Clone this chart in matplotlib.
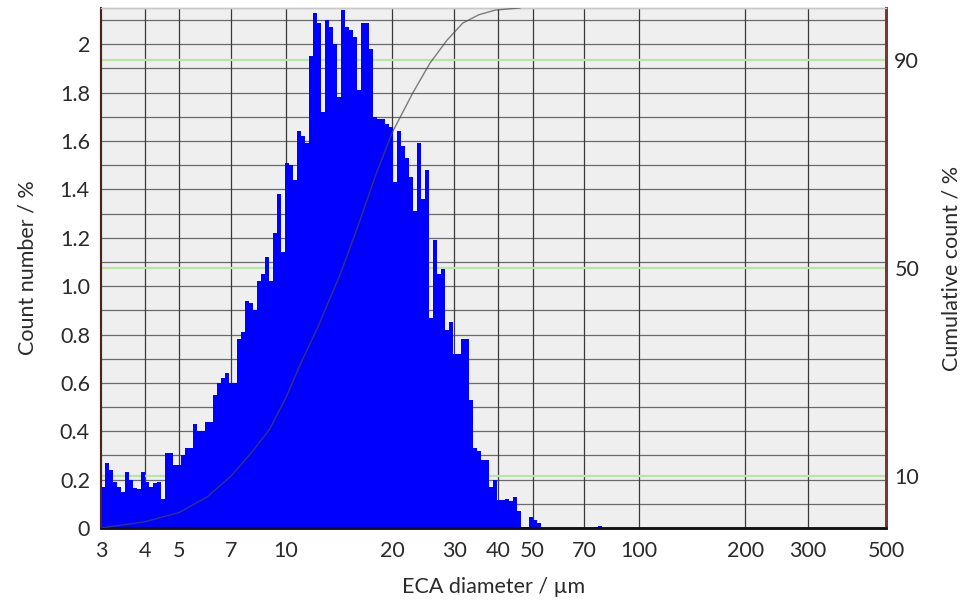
import numpy as np
import matplotlib
matplotlib.use("Agg")
import matplotlib.pyplot as plt
from matplotlib.transforms import blended_transform_factory

plt.rcParams['font.family'] = ['Lato', 'DejaVu Sans']

# count number per log-spaced size class (%)
counts = [0.17, 0.27, 0.24, 0.19, 0.17, 0.15, 0.23, 0.20, 0.165, 0.16,
          0.23, 0.19, 0.17, 0.185, 0.19, 0.12, 0.31, 0.31, 0.26, 0.26,
          0.30, 0.33, 0.33, 0.43, 0.40, 0.40, 0.44, 0.44, 0.55, 0.60,
          0.62, 0.64, 0.60, 0.60, 0.78, 0.81, 0.94, 0.93, 0.90, 1.02,
          1.05, 1.12, 1.02, 1.22, 1.38, 1.14, 1.51, 1.50, 1.44, 1.64,
          1.62, 1.59, 1.95, 2.13, 2.09, 1.72, 2.10, 2.07, 2.00, 1.78,
          2.14, 2.07, 2.06, 2.03, 1.81, 2.09, 2.09, 1.98, 1.70, 1.69,
          1.69, 1.67, 1.66, 1.43, 1.64, 1.58, 1.53, 1.45, 1.31, 1.59,
          1.36, 1.48, 0.87, 1.19, 1.05, 1.07, 0.82, 0.85, 0.72, 0.72,
          0.78, 0.78, 0.53, 0.33, 0.32, 0.28, 0.28, 0.17, 0.20, 0.115,
          0.115, 0.12, 0.11, 0.13, 0.07, 0.005, 0.005, 0.045, 0.035, 0.02,
          0, 0, 0, 0, 0, 0, 0, 0, 0, 0,
          0, 0, 0, 0.005, 0.01]
d_min = 3.0
d_max = 78.3

# cumulative count curve
cum_d = [3, 4, 5, 6, 7, 8, 9, 10, 11, 12.3, 14.3, 16, 18, 20, 22.9, 25.6,
         28.6, 31.7, 35.2, 39.2, 46]
cum_pct = [0, 1.2, 3, 6, 10, 14.5, 19, 25, 31.5, 38.5, 49, 58, 68, 76, 83.7,
           89.4, 93.8, 97.1, 98.7, 99.6, 100]

xticks = [3, 4, 5, 7, 10, 20, 30, 40, 50, 70, 100, 200, 300, 500]
yticks = [0, 0.2, 0.4, 0.6, 0.8, 1.0, 1.2, 1.4, 1.6, 1.8, 2.0]
ylabels = ['0', '0.2', '0.4', '0.6', '0.8', '1.0', '1.2', '1.4', '1.6', '1.8', '2']
green_pct = [10, 50, 90]

edges = np.geomspace(d_min, d_max, len(counts) + 1)
fs = 15.5

fig = plt.figure(figsize=(9.62, 6.10), dpi=100)
ax = fig.add_axes([0.105, 0.1344, 0.816, 0.8525])
ax.set_facecolor('#efefef')
ax.set_xscale('log')
ax.set_xlim(3, 500)
ax.set_ylim(0, 2.15)

ax2 = ax.twinx()
ax2.set_ylim(0, 100)

# grid
for yv in np.arange(0.1, 2.15, 0.1):
    ax.axhline(yv, color='#6a6a6a', lw=0.9, zorder=1)
for xv in xticks[1:-1]:
    ax.axvline(xv, color='#3a3a3a', lw=0.9, zorder=1)

# green 10/50/90 % lines (behind the bars)
tr = blended_transform_factory(ax.transAxes, ax2.transData)
for g in green_pct:
    ax.plot([0, 1], [g, g], color='#b8e6a8', lw=1.6, transform=tr, zorder=1.5)

ax.stairs(counts, edges, fill=True, color='#0000ff', zorder=2)

ax2.plot(cum_d, cum_pct, color='#4a4a4a', lw=1.0, alpha=0.7, zorder=3)

ax.set_xticks(xticks)
ax.set_xticklabels([str(t) for t in xticks])
ax.xaxis.set_minor_locator(matplotlib.ticker.NullLocator())
ax.set_yticks(yticks)
ax.set_yticklabels(ylabels)
ax.tick_params(axis='both', length=0, labelsize=fs, colors='#2a2a2a')
ax.tick_params(axis='x', pad=9)
ax.tick_params(axis='y', pad=8)

ax2.set_yticks(green_pct)
ax2.set_yticklabels([str(g) for g in green_pct])
ax2.tick_params(axis='y', length=0, labelsize=fs, colors='#2a2a2a', pad=6)

ax.set_xlabel('ECA diameter / µm', fontsize=fs, color='#2a2a2a', labelpad=12)
ax.set_ylabel('Count number / %', fontsize=fs, color='#2a2a2a', labelpad=16)
ax2.set_ylabel('Cumulative count / %', fontsize=fs, color='#2a2a2a', labelpad=16)

for a in (ax, ax2):
    a.spines['bottom'].set_color('#111111')
    a.spines['bottom'].set_linewidth(1.8)
    a.spines['left'].set_color('#4a2424')
    a.spines['left'].set_linewidth(1.5)
    a.spines['right'].set_color('#7a3434')
    a.spines['right'].set_linewidth(2.0)
    a.spines['top'].set_color('#c8c8c8')
    a.spines['top'].set_linewidth(1.0)

fig.savefig('out.png', dpi=100)
